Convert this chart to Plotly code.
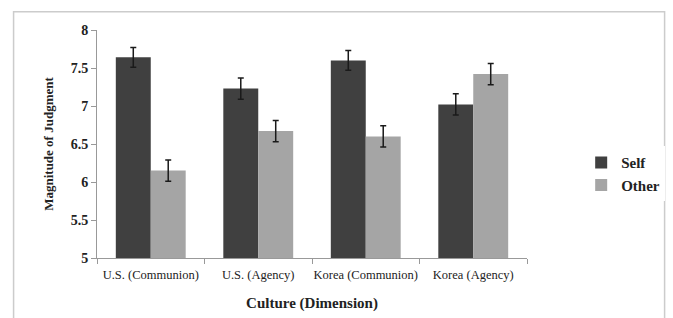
import plotly.graph_objects as go

categories = ["U.S. (Communion)", "U.S. (Agency)", "Korea (Communion)", "Korea (Agency)"]
self_vals = [7.64, 7.23, 7.6, 7.02]
other_vals = [6.15, 6.67, 6.6, 7.42]
self_err = [0.13, 0.14, 0.13, 0.14]
other_err = [0.14, 0.14, 0.14, 0.14]
y_ticks = [5, 5.5, 6, 6.5, 7, 7.5, 8]

FONT = "Liberation Serif"

fig = go.Figure()
fig.add_trace(go.Bar(
    name="<b>Self</b>", x=categories, y=self_vals, legendgroup="self",
    marker=dict(color="#404040", line=dict(width=0)),
    error_y=dict(type="data", array=self_err, color="#1a1a1a", thickness=1.5, width=3),
))
fig.add_trace(go.Bar(
    name="<b>Other</b>", x=categories, y=other_vals, legendgroup="other",
    marker=dict(color="#a5a5a5", line=dict(width=0)),
    error_y=dict(type="data", array=other_err, color="#1a1a1a", thickness=1.5, width=3),
))

fig.update_layout(
    width=673, height=318,
    margin=dict(l=97, r=146, t=30, b=60, autoexpand=False),
    paper_bgcolor="white", plot_bgcolor="white",
    barmode="group", bargap=0.35, bargroupgap=0,
    font=dict(family=FONT, size=12, color="#222"),
    showlegend=True,
    legend=dict(x=1.126, y=0.37, xanchor="left", yanchor="middle",
                font=dict(family=FONT, size=15, color="#222"),
                traceorder="normal", itemwidth=30, tracegroupgap=6),
    xaxis=dict(
        title=dict(text="<b>Culture (Dimension)</b>", font=dict(family=FONT, size=15), standoff=16),
        showline=True, linecolor="#999", linewidth=1,
        ticks="outside", tickson="boundaries", ticklen=5, tickcolor="#999",
        tickfont=dict(family=FONT, size=12.5, color="#222"), tickangle=0,
        tickvals=categories, ticktext=categories, ticklabelstandoff=5,
        showgrid=False, automargin=False,
    ),
    yaxis=dict(
        title=dict(text="<b>Magnitude of Judgment</b>", font=dict(family=FONT, size=13), standoff=14),
        range=[5, 8], tickvals=y_ticks, ticktext=[f"<b>{v:g}</b>" for v in y_ticks],
        showline=True, linecolor="#999", linewidth=1,
        ticks="outside", ticklen=5, tickcolor="#999",
        tickfont=dict(family=FONT, size=14, color="#222"),
        showgrid=False, zeroline=False, automargin=False,
    ),
)

fig.add_shape(type="rect", xref="paper", yref="paper",
              x0=-0.194, x1=1.32, y0=-0.27, y1=1.08,
              line=dict(color="#cccccc", width=1.5), fillcolor="rgba(0,0,0,0)", layer="below")

fig.write_html("out.html", config={"displayModeBar": False},
               post_script="document.body.style.margin='0';")
